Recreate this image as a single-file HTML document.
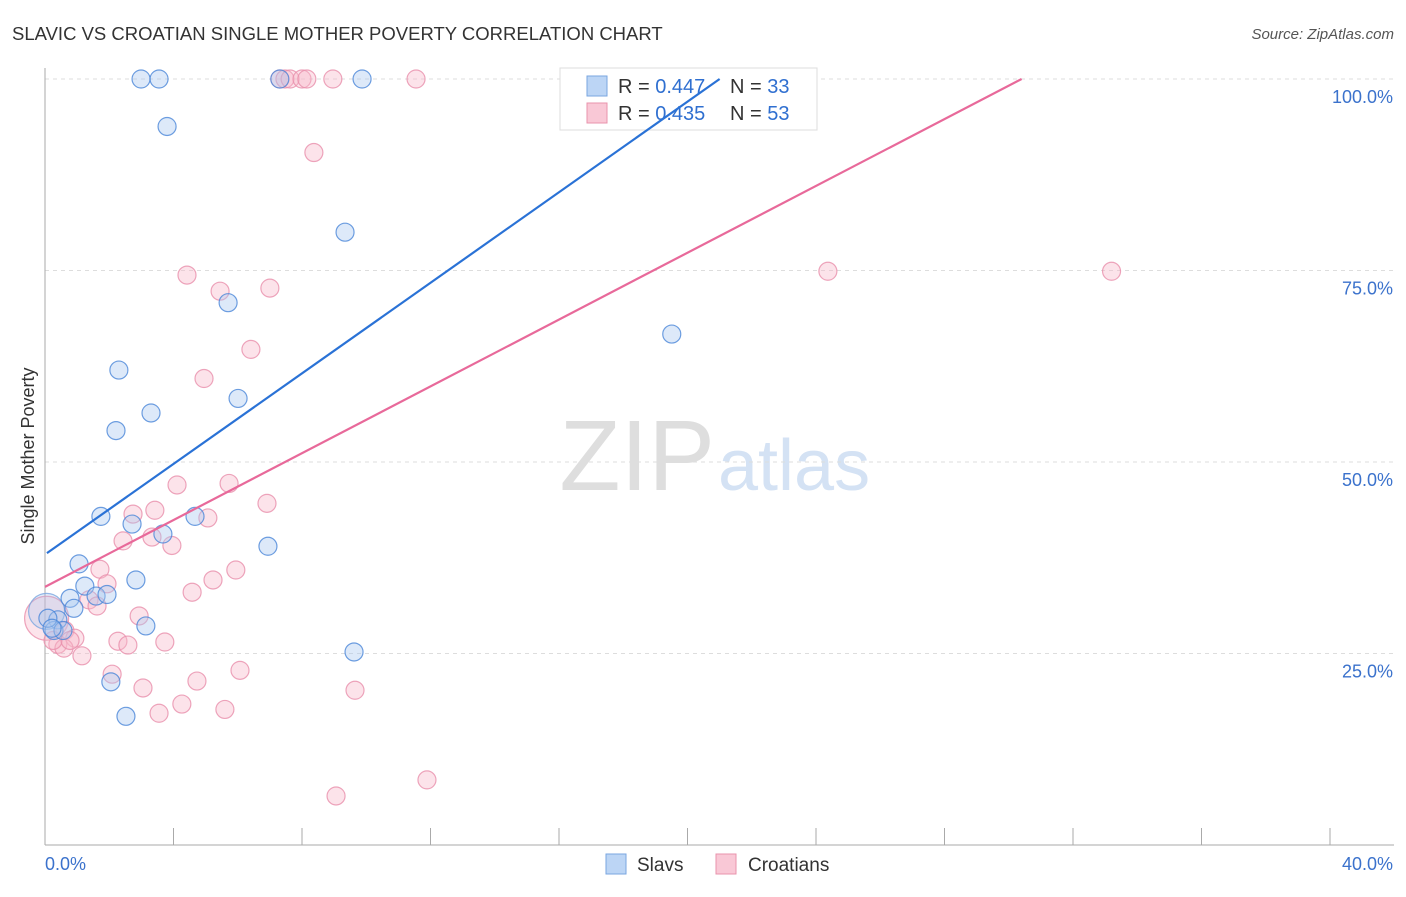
<!DOCTYPE html>
<html><head><meta charset="utf-8"><style>
body{margin:0;background:#fff;font-family:"Liberation Sans",sans-serif}
svg text{font-family:"Liberation Sans",sans-serif}
</style></head><body>
<svg width="1406" height="892" xmlns="http://www.w3.org/2000/svg">
<text x="12" y="40" font-size="18.5" fill="#333">SLAVIC VS CROATIAN SINGLE MOTHER POVERTY CORRELATION CHART</text>
<text x="1394" y="39" font-size="15" fill="#555" text-anchor="end" font-style="italic">Source: ZipAtlas.com</text>
<text x="715" y="490" font-size="100" fill="#dedede" text-anchor="end" font-family="Liberation Serif">ZIP</text>
<text x="718" y="490" font-size="72" fill="#d4e2f4">atlas</text>
<g id="grid"></g>
<g>
<rect x="560" y="68" width="257" height="62" fill="#fff" stroke="#ddd"/>
<rect x="587" y="76" width="20" height="20" fill="#bcd5f5" stroke="#7aa6e0"/>
<rect x="587" y="103" width="20" height="20" fill="#f9c8d6" stroke="#e993ac"/>
<text x="618" y="93" font-size="20" fill="#333">R = <tspan fill="#2f6fd0">0.447</tspan></text>
<text x="730" y="93" font-size="20" fill="#333">N = <tspan fill="#2f6fd0">33</tspan></text>
<text x="618" y="120" font-size="20" fill="#333">R = <tspan fill="#2f6fd0">0.435</tspan></text>
<text x="730" y="120" font-size="20" fill="#333">N = <tspan fill="#2f6fd0">53</tspan></text>
</g>
<g id="marks"></g>
<text transform="translate(34,456) rotate(-90)" font-size="18" fill="#333" text-anchor="middle">Single Mother Poverty</text>
<g>
<rect x="606" y="854" width="20" height="20" fill="#bcd5f5" stroke="#7aa6e0"/>
<text x="637" y="871" font-size="19" fill="#333">Slavs</text>
<rect x="716" y="854" width="20" height="20" fill="#f9c8d6" stroke="#e993ac"/>
<text x="748" y="871" font-size="19" fill="#333">Croatians</text>
</g>
</svg>
<script>
const xTicks=[0,4,8,12,16,20,24,28,32,36,40];
const yTicks=[25,50,75,100];
const yTickLabels=["25.0%","50.0%","75.0%","100.0%"];
const slavX=[2.99,3.55,3.80,7.31,9.87,9.34,5.70,19.51,2.30,3.30,6.01,2.21,1.74,2.71,4.67,3.67,6.94,1.06,2.83,1.24,0.78,1.59,1.93,0.90,0.40,0.28,0.56,3.14,9.62,2.05,2.52,0.09,0.22];
const slavY=[100,100,93.8,100,100,80.0,70.8,66.7,62.0,56.4,58.3,54.1,42.9,41.9,42.9,40.6,39.0,36.7,34.6,33.8,32.2,32.5,32.7,30.9,29.4,28.0,28.0,28.6,25.2,21.3,16.8,29.6,28.3];
const croX=[7.31,7.47,7.63,8.0,8.15,8.96,11.55,8.37,24.37,33.2,4.42,5.45,7.0,6.41,4.95,4.11,5.73,6.91,3.42,2.74,5.07,3.33,2.43,3.95,1.71,5.94,5.23,1.93,4.58,1.37,1.62,2.93,0.62,0.93,2.27,2.58,3.73,0.40,0.59,1.15,2.09,6.07,4.73,3.05,9.65,4.26,3.55,5.60,11.89,9.06,0.25,0.78];
const croY=[100,100,100,100,100,100,100,90.4,74.9,74.9,74.4,72.3,72.7,64.7,60.9,47.0,47.2,44.6,43.7,43.2,42.7,40.2,39.7,39.1,36.0,35.9,34.6,34.1,33.0,32.0,31.2,29.9,28.0,27.0,26.6,26.1,26.5,26.2,25.7,24.7,22.3,22.8,21.4,20.5,20.2,18.4,17.2,17.7,8.5,6.4,26.7,26.7];
const bigSlav=[0.05,30.5];const bigCro=[0.05,29.6];
const slavTrend=[[0.06,38.1],[21.0,100]];
const croTrend=[[0,33.7],[30.4,100]];
const NS="http://www.w3.org/2000/svg";
const sx=v=>45+v*32.125, sy=v=>845-v*7.66;
function mk(p,t,a){const e=document.createElementNS(NS,t);for(const k in a)e.setAttribute(k,a[k]);p.appendChild(e);return e;}
const g=document.getElementById('grid'),m=document.getElementById('marks');
yTicks.forEach((v,i)=>{const l=mk(g,'line',{x1:45,x2:1394,y1:sy(v),y2:sy(v),stroke:'#ddd','stroke-dasharray':'4,4'});


const t=mk(g,'text',{x:1393,y:sy(v)+24,'font-size':18,fill:'#3b72cc','text-anchor':'end'});t.textContent=yTickLabels[i];

});
const ax=mk(g,'line',{x1:45,x2:45,y1:68,y2:845,stroke:'#aaa'});


const bx=mk(g,'line',{x1:45,x2:1394,y1:845,y2:845,stroke:'#aaa'});


xTicks.forEach(v=>{const l=mk(g,'line',{x1:sx(v),x2:sx(v),y1:828,y2:845,stroke:'#aaa'});

});
[[0,'0.0%','start',45],[40,'40.0%','end',1393]].forEach(a=>{const t=mk(g,'text',{x:a[3],y:870,'font-size':18,fill:'#3b72cc','text-anchor':a[2]});t.textContent=a[1];

});
function dot(x,y,r,fill,stroke,name,op){const c=mk(m,'circle',{cx:sx(x),cy:sy(y),r:r,fill:fill,'fill-opacity':op||0.4,stroke:stroke,'stroke-opacity':0.8,'stroke-width':1.2});

}
dot(bigCro[0],bigCro[1],22,'#f4a7bd','#ea8fab','croatian-point-large',0.3);
dot(bigSlav[0],bigSlav[1],18,'#9ec2ee','#7aa6e0','slav-point-large',0.3);
croX.forEach((x,i)=>dot(x,croY[i],9,'#f7b9cb','#e98fab','croatian-point'));
slavX.forEach((x,i)=>dot(x,slavY[i],9,'#a9c9f1','#4a86d8','slav-point'));
const l1=mk(m,'line',{x1:sx(slavTrend[0][0]),y1:sy(slavTrend[0][1]),x2:sx(slavTrend[1][0]),y2:sy(slavTrend[1][1]),stroke:'#2a72d6','stroke-width':2.2});


const l2=mk(m,'line',{x1:sx(croTrend[0][0]),y1:sy(croTrend[0][1]),x2:sx(croTrend[1][0]),y2:sy(croTrend[1][1]),stroke:'#e8699a','stroke-width':2.2});


</script>
</body></html>
